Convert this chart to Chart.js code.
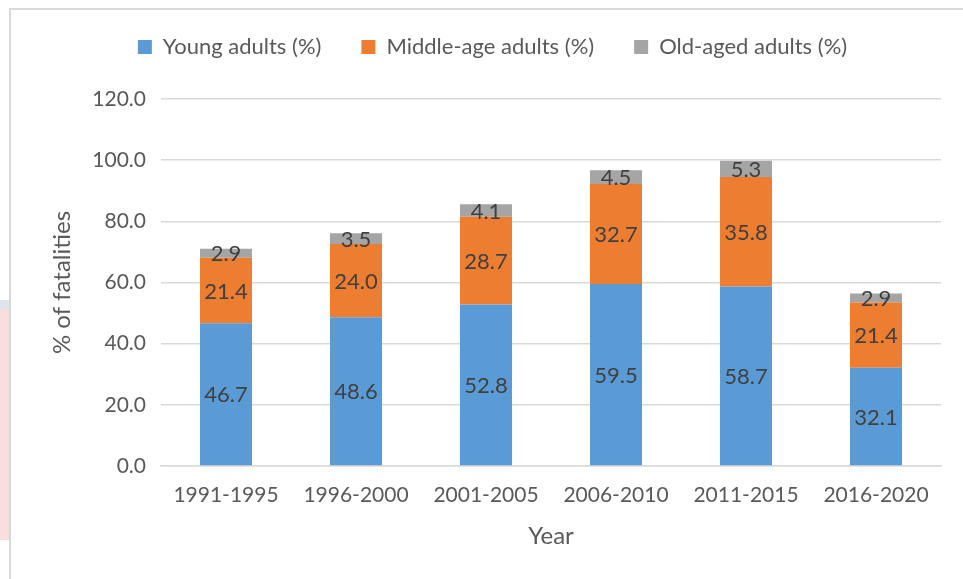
<!DOCTYPE html>
<html>
<head>
<meta charset="utf-8">
<script src="https://cdn.jsdelivr.net/npm/chart.js@4/dist/chart.umd.min.js"></script>
<style>
  html, body { margin: 0; padding: 0; background: #fff; }
  body { width: 963px; height: 579px; position: relative; overflow: hidden; }
  #frame { position: absolute; left: 9px; top: 8px; width: 980px; height: 600px;
           border-left: 2px solid #d9d9d9; border-top: 2px solid #d9d9d9; }
  #band { position: absolute; left: 0; top: 300px; width: 9px; height: 240px;
          background: linear-gradient(#dfe3ea 0, #dfe3ea 10px, #f9dede 10px, #f9dede 100%); }
  #wrap { position: absolute; left: 0; top: 0; width: 963px; height: 579px; }
</style>
</head>
<body>
<div id="band"></div>
<div id="frame"></div>
<div id="wrap"><canvas id="chart" width="963" height="579"></canvas></div>
<script>
// data
const years = ['1991-1995', '1996-2000', '2001-2005', '2006-2010', '2011-2015', '2016-2020'];
const youngAdults = [46.7, 48.6, 52.8, 59.5, 58.7, 32.1];
const middleAgeAdults = [21.4, 24.0, 28.7, 32.7, 35.8, 21.4];
const oldAgedAdults = [2.9, 3.5, 4.1, 4.5, 5.3, 2.9];
const yTicks = [0, 20, 40, 60, 80, 100, 120];

const FONT = 'Lato, "Open Sans", sans-serif';
const TEXT = '#595959';

// 在每段柱子中间写数值
const barLabels = {
    id: 'barLabels',
    afterDatasetsDraw(chart) {
        const ctx = chart.ctx;
        ctx.save();
        ctx.font = '22px ' + FONT;
        ctx.fillStyle = '#404040';
        ctx.textAlign = 'center';
        ctx.textBaseline = 'middle';
        chart.data.datasets.forEach((ds, i) => {
            const meta = chart.getDatasetMeta(i);
            meta.data.forEach((el, j) => {
                const p = el.getCenterPoint();
                ctx.fillText(ds.data[j].toFixed(1), p.x, p.y + 1);
            });
        });
        ctx.restore();
    }
};

// legend 高度固定，让绘图区从 y=99 开始
const legendHeight = {
    id: 'legendHeight',
    beforeInit(chart) {
        const fit = chart.legend.fit;
        chart.legend.fit = function () {
            fit.bind(chart.legend)();
            this.height = 103;
        };
    }
};

const chart = new Chart(document.getElementById('chart'), {
    type: 'bar',
    data: {
        labels: years,
        datasets: [
            { label: 'Young adults (%)', data: youngAdults, backgroundColor: '#5B9BD5' },
            { label: 'Middle-age adults (%)', data: middleAgeAdults, backgroundColor: '#ED7D31' },
            { label: 'Old-aged adults (%)', data: oldAgedAdults, backgroundColor: '#A5A5A5' }
        ]
    },
    options: {
        responsive: false,
        animation: false,
        devicePixelRatio: 1,
        layout: { padding: { left: 44, right: 22, top: -4, bottom: 24 } },
        datasets: { bar: { barPercentage: 0.4, categoryPercentage: 1.0, borderWidth: 0 } },
        plugins: {
            legend: {
                position: 'top',
                labels: {
                    boxWidth: 14, boxHeight: 14, padding: 40,
                    color: TEXT, font: { family: FONT, size: 22 }
                }
            },
            tooltip: { enabled: false }
        },
        scales: {
            x: {
                stacked: true,
                grid: { display: false, drawTicks: false },
                border: { color: '#d9d9d9', width: 1.5 },
                ticks: { color: TEXT, font: { family: FONT, size: 21 }, padding: 17 },
                title: { display: true, text: 'Year', color: TEXT, font: { family: FONT, size: 24 } },
                afterFit(scale) { scale.height = 89; }
            },
            y: {
                stacked: true,
                min: 0,
                max: yTicks[yTicks.length - 1],
                grid: { color: '#d9d9d9', lineWidth: 1.5, drawTicks: false },
                border: { display: false },
                afterBuildTicks(scale) { scale.ticks = yTicks.map(v => ({ value: v })); },
                ticks: {
                    color: TEXT, font: { family: FONT, size: 21 }, padding: 15,
                    callback: v => v.toFixed(1)
                },
                title: { display: true, text: '% of fatalities', color: TEXT, font: { family: FONT, size: 24 } },
                afterFit(scale) { scale.width = 117; }
            }
        }
    },
    plugins: [barLabels, legendHeight]
});
</script>
</body>
</html>
